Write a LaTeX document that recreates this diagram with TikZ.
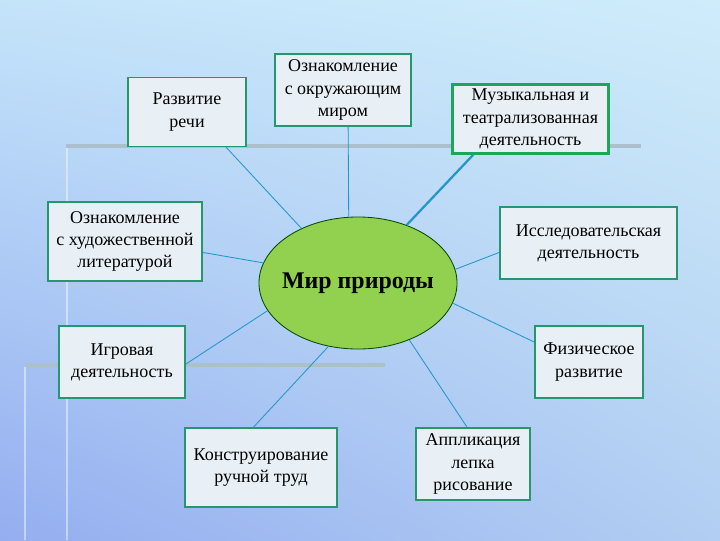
\documentclass[tikz,border=0pt]{standalone}
\usepackage{fontspec}
\setmainfont{Liberation Serif}
\usepackage{tikz}
\usetikzlibrary{positioning}
\usetikzlibrary{arrows,shapes}
\usetikzlibrary{shadings}
\usetikzlibrary{calc}
\definecolor{boxgreen}{RGB}{38,150,110}
\definecolor{musgreen}{RGB}{30,165,90}
\definecolor{boxfill}{RGB}{232,240,245}
\definecolor{spokeblue}{RGB}{35,150,200}
\definecolor{mirgreen}{RGB}{146,208,80}
\definecolor{bartone}{RGB}{172,192,204}
\definecolor{bgUL}{RGB}{196,228,250}
\definecolor{bgUR}{RGB}{206,236,250}
\definecolor{bgLL}{RGB}{148,174,240}
\definecolor{bgLR}{RGB}{178,206,242}
\tikzstyle{topicbox}=[rectangle,draw=boxgreen,fill=boxfill,line width=0.8pt,align=center,inner sep=2pt,font=\fontsize{12.8}{15.8}\selectfont]
\tikzstyle{musicbox}=[topicbox,draw=musgreen,line width=2pt]
\tikzstyle{centre}=[ellipse,draw=black!70!green,fill=mirgreen,line width=0.6pt,inner ysep=0pt,inner xsep=-0.2cm,font=\fontsize{17}{19}\selectfont\bfseries]
\tikzstyle{spoke} = [draw,spokeblue,line width=0.6pt]
\tikzstyle{thickspoke} = [draw,spokeblue,line width=1.6pt]

\begin{document}
\begin{tikzpicture}[x=0.025cm,y=-0.025cm]
    \useasboundingbox (0,0) rectangle (720,540);
    % background and the grey bars
    \shade[upper left=bgUL, upper right=bgUR, lower left=bgLL, lower right=bgLR] (0,0) rectangle (720,540);
    \draw[bartone, line width=3pt] (66,146) -- (641,146);
    \draw[white, line width=1.5pt, opacity=0.45] (67,148) -- (67,540);
    \draw[bartone, line width=3pt] (25,365) -- (385,365);
    \draw[white, line width=1.5pt, opacity=0.45] (25,367) -- (25,540);

    % the centre
    \node[centre, minimum width=4.95cm, minimum height=3.3cm] (mir) at (358,283) {Мир природы};

    % the topic boxes
    \foreach \pos/\name/\w/\h/\label in {{(187,112)/R1/2.95/1.725/{Развитие\\речи}},
        {(343,90)/R2/3.4/1.8/{Ознакомление\\с окружающим\\миром}},
        {(125,241.5)/R4/3.85/1.975/{Ознакомление\\с художественной\\литературой}},
        {(588.5,243)/R5/4.425/1.8/{Исследовательская\\деятельность}},
        {(122,362)/R6/3.15/1.8/{Игровая\\деятельность}},
        {(589,362)/R7/2.7/1.8/{Физическое\\развитие}},
        {(261,467.5)/R8/3.8/1.975/{Конструирование\\ручной труд}},
        {(473,464)/R9/2.85/1.8/{Аппликация\\лепка\\рисование}}}
        \node[topicbox, minimum width=\w cm, minimum height=\h cm] (\name) at \pos {\label};
    \node[musicbox, minimum width=3.9cm, minimum height=1.72cm] (R3) at (530.5,119) {Музыкальная и\\театрализованная\\деятельность};

    % Connect boxes with the centre
  \foreach \source/ \dest in {R1.-42/mir.136, R2.-82/mir.98, R4.-8.5/mir.168, R5.186/mir.8,
        R6.-2/mir.197, R7.160/mir.-12, R8.101/mir.245, R9.99/mir.-48}
          \path[spoke] (\source) -- (\dest);
    \path[thickspoke] (R3.212) -- (mir.50);
\end{tikzpicture}
\end{document}
